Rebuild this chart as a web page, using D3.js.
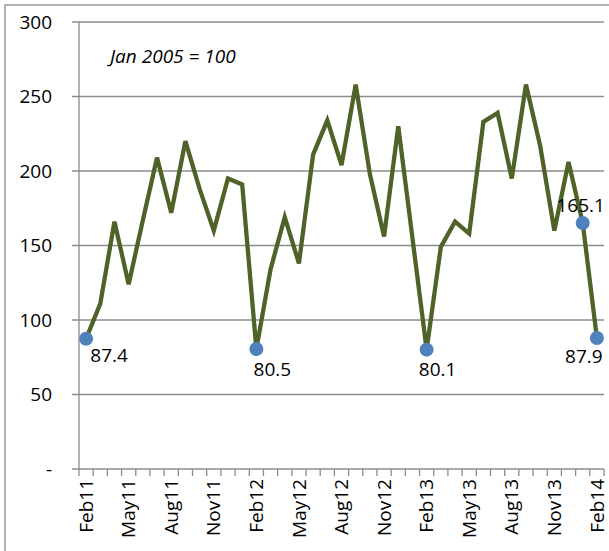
<!DOCTYPE html>
<html>
  <head>
    <meta charset="utf-8">
    <title>index chart</title>
    <style>
      body { margin: 0; background: #fff; }
      text { font-family: "Open Sans", sans-serif; fill: #000; }
    </style>
  </head>
  <body>
    <div class="one-graph"></div>
    <script src="https://cdn.jsdelivr.net/npm/d3@7"></script>
    <script>
        var w = 609, h = 551;

        // monthly index, Jan 2005 = 100
        var months = ["Feb11","Mar11","Apr11","May11","Jun11","Jul11","Aug11","Sep11","Oct11","Nov11","Dec11","Jan12",
                      "Feb12","Mar12","Apr12","May12","Jun12","Jul12","Aug12","Sep12","Oct12","Nov12","Dec12","Jan13",
                      "Feb13","Mar13","Apr13","May13","Jun13","Jul13","Aug13","Sep13","Oct13","Nov13","Dec13","Jan14",
                      "Feb14"];
        var values = [87.4, 111, 166, 124, 167, 209, 172, 220, 188, 160, 195, 191,
                      80.5, 134, 169, 138, 211, 234, 204, 258, 198, 156, 230, 155,
                      80.1, 149, 166, 158, 233, 239, 195, 258, 217, 160, 206, 165.1,
                      87.9];
        var shownLabels = ["Feb11","May11","Aug11","Nov11","Feb12","May12","Aug12","Nov12",
                           "Feb13","May13","Aug13","Nov13","Feb14"];
        var yTicks = [0, 50, 100, 150, 200, 250, 300];
        var markedMonths = ["Feb11", "Feb12", "Feb13", "Jan14", "Feb14"];

        var svg = d3.select(".one-graph")
        	.append("svg")
        	.attr("width", w)
        	.attr("height", h);

        // chart frame (cropped on right and bottom)
        svg.append("rect")
        	.attr("x", 5).attr("y", 5)
        	.attr("width", 640).attr("height", 600)
        	.attr("fill", "none")
        	.attr("stroke", "#8c8c8c")
        	.attr("stroke-width", 1.3);

        var x = d3.scaleBand().domain(months).range([79, 604]).padding(0);
        var y = d3.scaleLinear().domain([0, 300]).range([469, 22]);
        var cx = function(m) { return x(m) + x.bandwidth() / 2; };

        // gridlines + y ticks
        svg.append("g").selectAll("line")
        	.data(yTicks.filter(function(d) { return d > 0; }))
        	.enter().append("line")
        	.attr("x1", 72).attr("x2", 604)
        	.attr("y1", function(d) { return y(d); })
        	.attr("y2", function(d) { return y(d); })
        	.attr("stroke", "#8c8c8c")
        	.attr("stroke-width", 1.3);

        svg.append("g").selectAll("text")
        	.data(yTicks)
        	.enter().append("text")
        	.attr("x", 52)
        	.attr("y", function(d) { return y(d); })
        	.attr("dy", "0.35em")
        	.attr("text-anchor", "end")
        	.style("font-size", "19px")
        	.text(function(d) { return d === 0 ? "-" : d; });

        // axes lines
        svg.append("line")
        	.attr("x1", 79).attr("x2", 79)
        	.attr("y1", y(300)).attr("y2", y(0))
        	.attr("stroke", "#8c8c8c").attr("stroke-width", 1.3);
        svg.append("line")
        	.attr("x1", 72).attr("x2", 604)
        	.attr("y1", y(0)).attr("y2", y(0))
        	.attr("stroke", "#8c8c8c").attr("stroke-width", 1.3);

        // category tick marks (between categories)
        var bounds = months.map(function(m) { return x(m); }).concat([x.range()[1]]);
        svg.append("g").selectAll("line")
        	.data(bounds)
        	.enter().append("line")
        	.attr("x1", function(d) { return d; })
        	.attr("x2", function(d) { return d; })
        	.attr("y1", y(0)).attr("y2", y(0) + 7)
        	.attr("stroke", "#8c8c8c").attr("stroke-width", 1.3);

        // x labels, rotated
        svg.append("g").selectAll("text")
        	.data(shownLabels)
        	.enter().append("text")
        	.attr("transform", function(d) { return "translate(" + cx(d) + "," + (y(0) + 10) + ") rotate(-90)"; })
        	.attr("dy", "0.35em")
        	.attr("text-anchor", "end")
        	.style("font-size", "19px")
        	.text(function(d) { return d; });

        // the series line
        var line = d3.line()
        	.x(function(d, i) { return cx(months[i]); })
        	.y(function(d) { return y(d); });

        svg.append("path")
        	.datum(values)
        	.attr("d", line)
        	.attr("fill", "none")
        	.attr("stroke", "#4f6228")
        	.attr("stroke-width", 4.3)
        	.attr("stroke-linejoin", "miter");

        // marked points with value labels
        var labelPos = { "Feb11": [23, 23], "Feb12": [16, 27], "Feb13": [11, 26], "Jan14": [-2, -11], "Feb14": [-13, 25] };
        var marks = svg.append("g").selectAll("g")
        	.data(markedMonths)
        	.enter().append("g")
        	.attr("transform", function(d) {
        		return "translate(" + cx(d) + "," + y(values[months.indexOf(d)]) + ")";
        	});
        marks.append("circle")
        	.attr("r", 7)
        	.attr("fill", "#4f81bd");
        marks.append("text")
        	.attr("x", function(d) { return labelPos[d][0]; })
        	.attr("y", function(d) { return labelPos[d][1]; })
        	.attr("text-anchor", "middle")
        	.style("font-size", "19px")
        	.text(function(d) { return values[months.indexOf(d)].toFixed(1); });

        // base note
        svg.append("text")
        	.attr("x", 110).attr("y", 63)
        	.style("font-size", "19px")
        	.style("font-style", "italic")
        	.text("Jan 2005 = 100");
    </script>
  </body>
</html>
